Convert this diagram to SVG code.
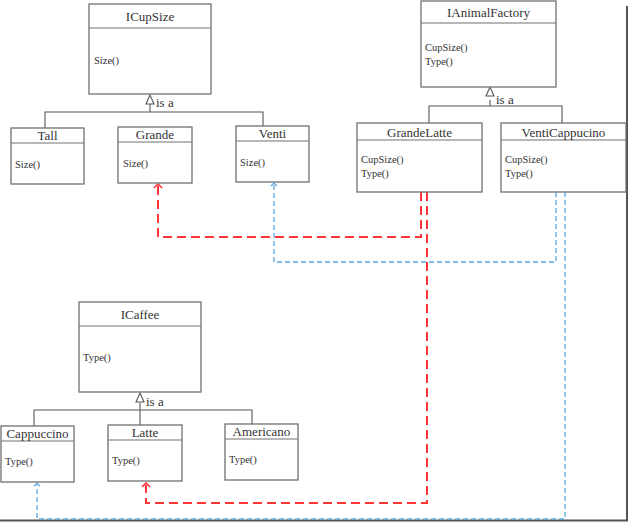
<svg xmlns="http://www.w3.org/2000/svg" width="631" height="524" viewBox="0 0 631 524">
<style>
.box{fill:#fff;stroke:#707070;stroke-width:1.3}
.sep{stroke:#707070;stroke-width:1.2}
.t{font-family:"Liberation Serif",serif;font-size:13px;fill:#333;text-anchor:middle}
.m{font-family:"Liberation Serif",serif;font-size:10.5px;fill:#333}
.inh{fill:none;stroke:#555;stroke-width:1.1}
.tri{fill:#fff;stroke:#555;stroke-width:1.1}
.isa{font-family:"Liberation Serif",serif;font-size:13px;fill:#333}
.red{fill:none;stroke:#ff3535;stroke-width:2;stroke-dasharray:9 5}
.blue{fill:none;stroke:#5ba6dd;stroke-width:1.3;stroke-dasharray:5 3}
.rh{fill:none;stroke:#ff3535;stroke-width:1.6}
.bh{fill:none;stroke:#5ba6dd;stroke-width:1.2}
</style>
<rect x="0" y="0" width="631" height="524" fill="#fff"/>
<g id="frame">
<line x1="627" y1="6" x2="627" y2="521" stroke="#555" stroke-width="2"/>
<line x1="0" y1="520.5" x2="628" y2="520.5" stroke="#555" stroke-width="2"/>
</g>
<g id="connectors">
<path class="inh" d="M45,128 V112 H263 V126 M150,112 V104 M490,100 V106 M429,123 V106 H562 V123 M140,403 V410 M34,426 V410 H252 V424 M140,410 V425"/>
<path class="tri" d="M150,95 L146,104 H154 Z"/>
<path class="tri" d="M490,87 L486,96 H494 Z"/>
<path class="tri" d="M140,393 L136,402 H144 Z"/>
<text class="isa" x="156" y="107">is a</text>
<text class="isa" x="496" y="104">is a</text>
<text class="isa" x="146" y="406">is a</text>
<path class="red" d="M421,192 V237 H158 V186"/>
<path class="rh" d="M154,188 L158,184 L162,188"/>
<path class="red" d="M427,192 V503 H146 V485"/>
<path class="rh" d="M142,487 L146,483 L150,487"/>
<path class="blue" d="M556,192 V262 H274 V185"/>
<path class="bh" d="M271,186 L274,183 L277,186"/>
<path class="blue" d="M565,192 V519 H37 V485"/>
<path class="bh" d="M34,486 L37,483 L40,486"/>
</g>
<g id="ICupSize">
<rect class="box" x="89" y="4" width="122" height="90"/>
<line class="sep" x1="89" y1="28" x2="211" y2="28"/>
<text class="t" x="150" y="21">ICupSize</text>
<text class="m" x="94" y="64">Size()</text>
</g>
<g id="Tall">
<rect class="box" x="11" y="128" width="73" height="56"/>
<line class="sep" x1="11" y1="143" x2="84" y2="143"/>
<text class="t" x="47.5" y="140">Tall</text>
<text class="m" x="15" y="168">Size()</text>
</g>
<g id="Grande">
<rect class="box" x="118" y="127" width="74" height="56"/>
<line class="sep" x1="118" y1="142" x2="192" y2="142"/>
<text class="t" x="155" y="139">Grande</text>
<text class="m" x="123" y="167">Size()</text>
</g>
<g id="Venti">
<rect class="box" x="236" y="126" width="73" height="56"/>
<line class="sep" x1="236" y1="141" x2="309" y2="141"/>
<text class="t" x="272.5" y="138">Venti</text>
<text class="m" x="240" y="166">Size()</text>
</g>
<g id="IAnimalFactory">
<rect class="box" x="421" y="1" width="135" height="86"/>
<line class="sep" x1="421" y1="23" x2="556" y2="23"/>
<text class="t" x="488.5" y="17">IAnimalFactory</text>
<text class="m" x="425" y="51">CupSize()</text>
<text class="m" x="425" y="65">Type()</text>
</g>
<g id="GrandeLatte">
<rect class="box" x="357" y="123" width="125" height="69"/>
<line class="sep" x1="357" y1="140" x2="482" y2="140"/>
<text class="t" x="419.5" y="137">GrandeLatte</text>
<text class="m" x="361" y="163">CupSize()</text>
<text class="m" x="361" y="177">Type()</text>
</g>
<g id="VentiCappucino">
<rect class="box" x="501" y="123" width="125" height="69"/>
<line class="sep" x1="501" y1="140" x2="626" y2="140"/>
<text class="t" x="563.5" y="137">VentiCappucino</text>
<text class="m" x="505" y="163">CupSize()</text>
<text class="m" x="505" y="177">Type()</text>
</g>
<g id="ICaffee">
<rect class="box" x="79" y="302" width="122" height="90"/>
<line class="sep" x1="79" y1="326" x2="201" y2="326"/>
<text class="t" x="140" y="319">ICaffee</text>
<text class="m" x="83" y="361">Type()</text>
</g>
<g id="Cappuccino">
<rect class="box" x="1" y="426" width="73" height="56"/>
<line class="sep" x1="1" y1="441" x2="74" y2="441"/>
<text class="t" x="37.5" y="438">Cappuccino</text>
<text class="m" x="5" y="465">Type()</text>
</g>
<g id="Latte">
<rect class="box" x="108" y="425" width="74" height="56"/>
<line class="sep" x1="108" y1="440" x2="182" y2="440"/>
<text class="t" x="145" y="437">Latte</text>
<text class="m" x="112" y="464">Type()</text>
</g>
<g id="Americano">
<rect class="box" x="225" y="424" width="73" height="56"/>
<line class="sep" x1="225" y1="439" x2="298" y2="439"/>
<text class="t" x="261.5" y="436">Americano</text>
<text class="m" x="229" y="463">Type()</text>
</g>
</svg>
